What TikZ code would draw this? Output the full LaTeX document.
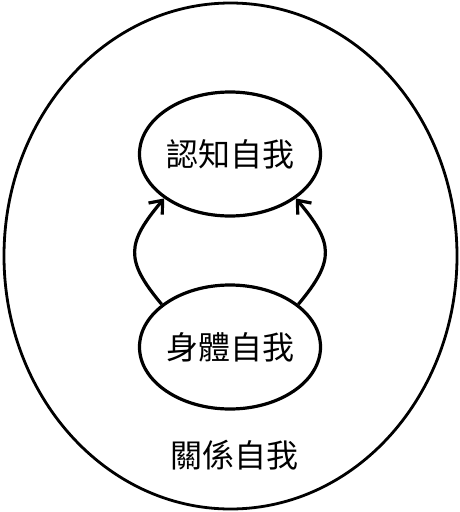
\documentclass[tikz,border=0pt]{standalone}
\usepackage{fontspec}
\newfontfamily\cjk{Noto Sans CJK TC}
\usetikzlibrary{arrows.meta,shapes.geometric}
\tikzset{
  self/.style={draw=black, ellipse, line width=3.2pt, minimum width=174, minimum height=124, inner sep=0pt, font=\cjk\fontsize{32}{36}\selectfont},
  outer/.style={draw=black, ellipse, line width=2.8pt, minimum width=453, minimum height=506, inner sep=0pt},
  arrow/.style={-{Straight Barb[length=11pt,width=18pt]}, line width=3.2pt},
}

\begin{document}
\begin{tikzpicture}[x=1pt,y=-1pt]
  \useasboundingbox (0,0) rectangle (460,512);
  \node[outer] (relself) at (230.5,256) {};
  \node[self] (cog) at (230,154) {認知自我};
  \node[self] (body) at (230,347) {身體自我};
  \node[font=\cjk\fontsize{32}{36}\selectfont] (rel) at (234,455) {關係自我};
  \draw[arrow] (body.148) to[out=130, in=230, looseness=1.4] (cog.214);
  \draw[arrow] (body.32) to[out=50, in=-50, looseness=1.4] (cog.-34);
\end{tikzpicture}
\end{document}
